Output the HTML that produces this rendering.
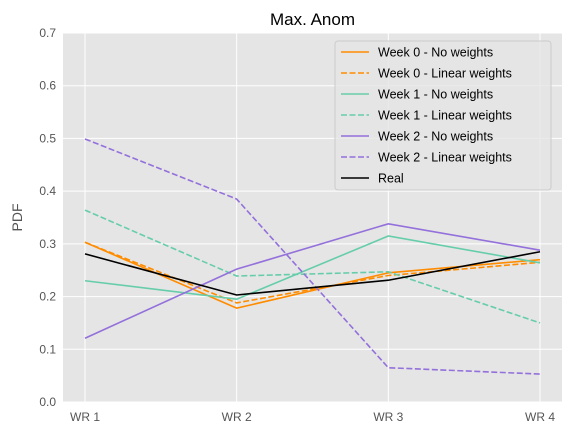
<!DOCTYPE html>
<html><head><meta charset="utf-8"><style>
body{margin:0;background:#fff;font-family:"Liberation Sans","DejaVu Sans",sans-serif}
</style></head><body>
<svg id="c" width="568" height="436" xmlns="http://www.w3.org/2000/svg"></svg>
<script>
const categories=["WR 1","WR 2","WR 3","WR 4"];
const yTicks=[0,0.1,0.2,0.3,0.4,0.5,0.6,0.7];
const seriesNames=["Week 0 - No weights","Week 0 - Linear weights","Week 1 - No weights","Week 1 - Linear weights","Week 2 - No weights","Week 2 - Linear weights","Real"];
const week0No=[0.303,0.178,0.245,0.270];
const week0Lin=[0.303,0.188,0.240,0.265];
const week1No=[0.230,0.195,0.315,0.264];
const week1Lin=[0.364,0.239,0.247,0.150];
const week2No=[0.121,0.252,0.338,0.288];
const week2Lin=[0.499,0.385,0.065,0.053];
const real=[0.281,0.203,0.231,0.285];
const seriesData=[week0No,week0Lin,week1No,week1Lin,week2No,week2Lin,real];
const colors=["#ff8c00","#ff8c00","#66cdaa","#66cdaa","#9370db","#9370db","#000000"];
const dashed=[false,true,false,true,false,true,false];
const keys=["week0-no","week0-linear","week1-no","week1-linear","week2-no","week2-linear","real"];

const svg=document.getElementById('c');
const NS="http://www.w3.org/2000/svg";
const L=63,R=562,T=33,B=402;
const x=i=>85+i*(540-85)/(categories.length-1);
const y=v=>B-(v/0.7)*(B-T);
function mk(tag,attrs,parent){const e=document.createElementNS(NS,tag);for(const k in attrs)e.setAttribute(k,attrs[k]);(parent||svg).appendChild(e);return e;}

const bg=mk('rect',{x:L,y:T,width:R-L,height:B-T,fill:'#e5e5e5'});


yTicks.forEach(t=>{
  const g=mk('line',{x1:L,x2:R,y1:y(t),y2:y(t),stroke:'#fff','stroke-width':1});
  
  
  const tx=mk('text',{x:L-7,y:y(t)+4,'text-anchor':'end','font-size':12,fill:'#555'});
  tx.textContent=t.toFixed(1);
  
  
});
categories.forEach((c,i)=>{
  const g=mk('line',{x1:x(i),x2:x(i),y1:T,y2:B,stroke:'#fff','stroke-width':1});
  
  
  const tx=mk('text',{x:x(i),y:B+19,'text-anchor':'middle','font-size':12,fill:'#555'});
  tx.textContent=c;
  
  
});
seriesData.forEach((d,s)=>{
  const p=mk('polyline',{points:d.map((v,i)=>x(i)+','+y(v)).join(' '),fill:'none',stroke:colors[s],'stroke-width':1.6});
  if(dashed[s])p.setAttribute('stroke-dasharray','6,2.5');
  
  
});
const title=mk('text',{x:(L+R)/2,y:25,'text-anchor':'middle','font-size':17,fill:'#000'});
title.textContent="Max. Anom";


const yl=mk('text',{x:22,y:(T+B)/2,'text-anchor':'middle','font-size':14,fill:'#555',transform:'rotate(-90 22 '+((T+B)/2)+')'});
yl.textContent="PDF";


const lg=mk('rect',{x:335,y:41,width:216,height:149,fill:'#e5e5e5',stroke:'#ccc','stroke-width':1,rx:3,'fill-opacity':0.8});


seriesNames.forEach((n,s)=>{
  const yy=52+s*21;
  const ln=mk('line',{x1:341,x2:369,y1:yy,y2:yy,stroke:colors[s],'stroke-width':1.6});
  if(dashed[s])ln.setAttribute('stroke-dasharray','6,2.5');
  
  
  const tx=mk('text',{x:378,y:yy+4.5,'font-size':12.5,fill:'#000'});
  tx.textContent=n;
  
  
});
</script>
</body></html>
